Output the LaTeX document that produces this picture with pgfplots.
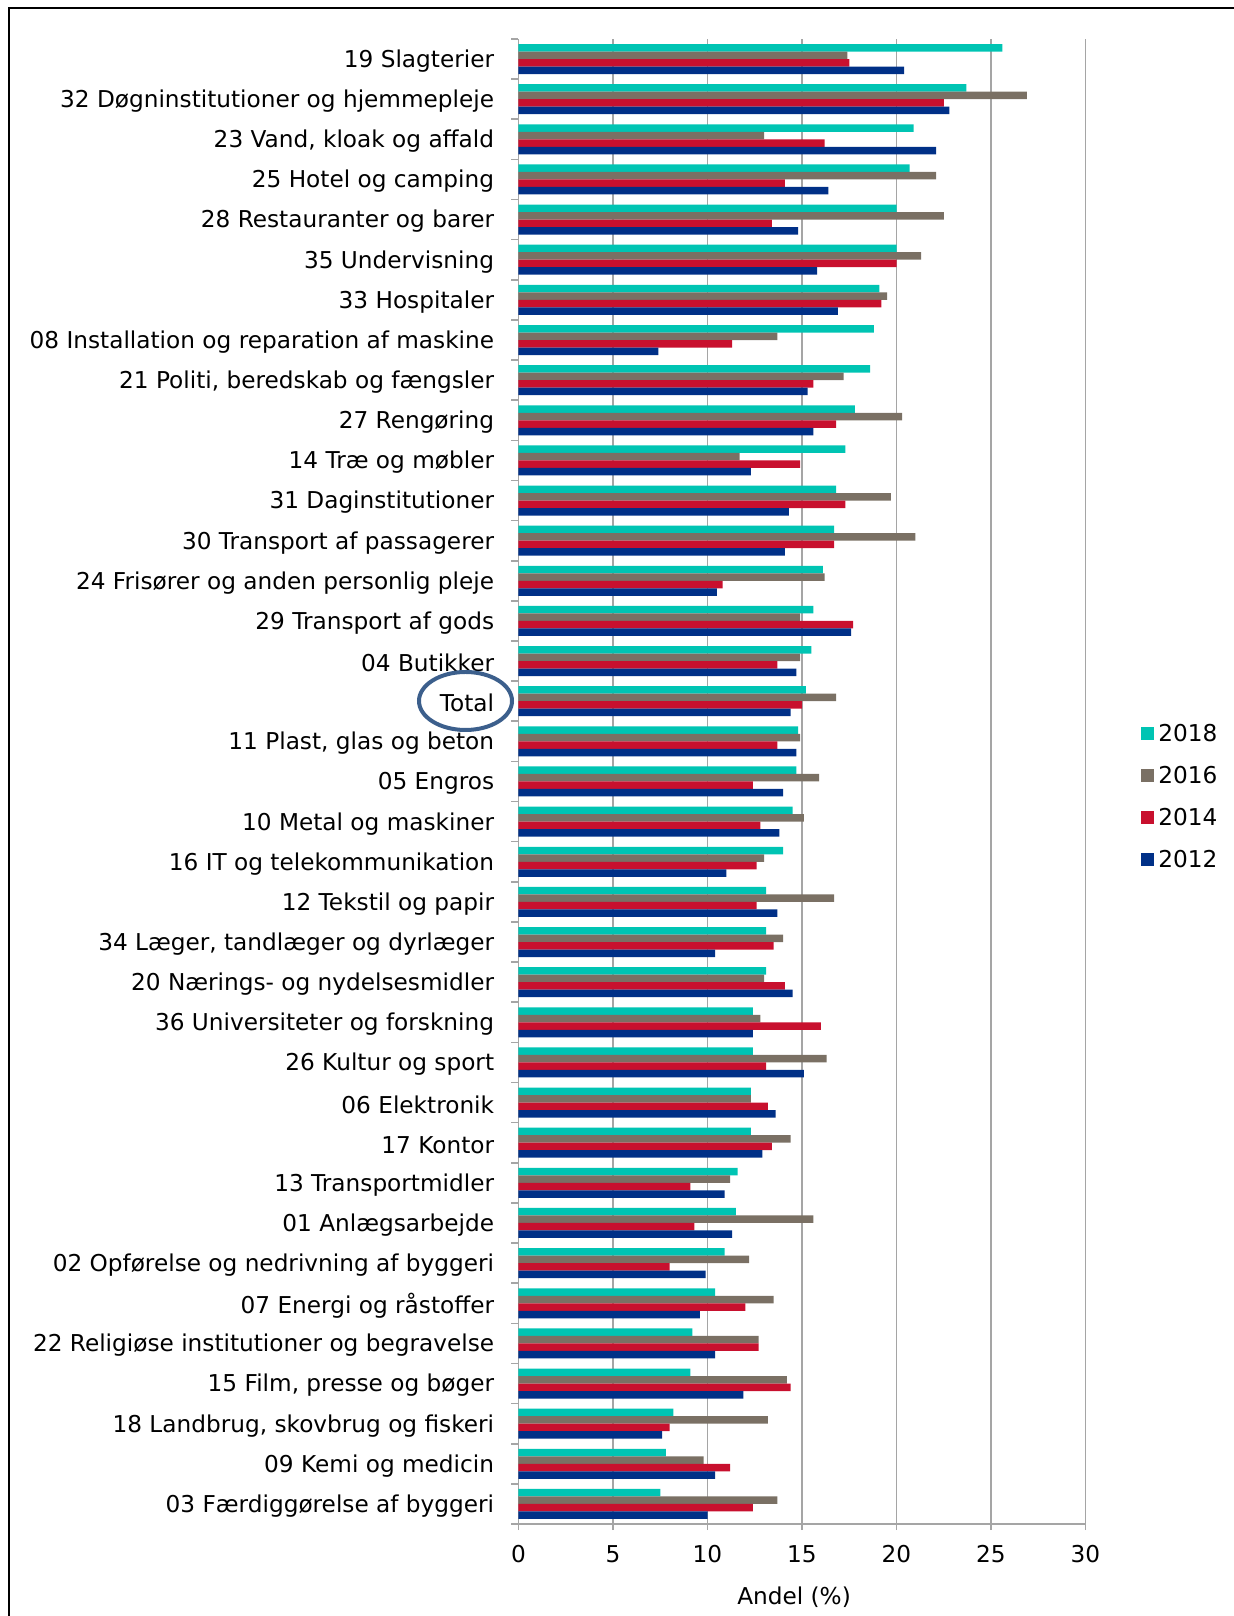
\documentclass[border=0pt]{standalone}
\usepackage{pgfplots}
\pgfplotsset{compat=1.18}
\usepackage{pgfplotstable}
\usepackage{fontspec}
\setmainfont{DejaVu Sans}
\definecolor{c18}{RGB}{0,196,179}
\definecolor{c16}{RGB}{122,112,100}
\definecolor{c14}{RGB}{200,16,46}
\definecolor{c12}{RGB}{0,48,135}
\definecolor{gridc}{RGB}{165,165,165}
\definecolor{circ}{RGB}{60,95,140}
\newcommand{\lf}{\fontsize{11.6}{13}\selectfont}
\pgfplotstableread{
y  a18  a16  a14  a12
36 25.6 17.4 17.5 20.4
35 23.7 26.9 22.5 22.8
34 20.9 13.0 16.2 22.1
33 20.7 22.1 14.1 16.4
32 20.0 22.5 13.4 14.8
31 20.0 21.3 20.0 15.8
30 19.1 19.5 19.2 16.9
29 18.8 13.7 11.3 7.4
28 18.6 17.2 15.6 15.3
27 17.8 20.3 16.8 15.6
26 17.3 11.7 14.9 12.3
25 16.8 19.7 17.3 14.3
24 16.7 21.0 16.7 14.1
23 16.1 16.2 10.8 10.5
22 15.6 14.9 17.7 17.6
21 15.5 14.9 13.7 14.7
20 15.2 16.8 15.0 14.4
19 14.8 14.9 13.7 14.7
18 14.7 15.9 12.4 14.0
17 14.5 15.1 12.8 13.8
16 14.0 13.0 12.6 11.0
15 13.1 16.7 12.6 13.7
14 13.1 14.0 13.5 10.4
13 13.1 13.0 14.1 14.5
12 12.4 12.8 16.0 12.4
11 12.4 16.3 13.1 15.1
10 12.3 12.3 13.2 13.6
9  12.3 14.4 13.4 12.9
8  11.6 11.2 9.1  10.9
7  11.5 15.6 9.3  11.3
6  10.9 12.2 8.0  9.9
5  10.4 13.5 12.0 9.6
4  9.2  12.7 12.7 10.4
3  9.1  14.2 14.4 11.9
2  8.2  13.2 8.0  7.6
1  7.8  9.8  11.2 10.4
0  7.5  13.7 12.4 10.0
}\data
\begin{document}
\begin{tikzpicture}[x=1pt,y=1pt]
\path[use as bounding box] (0,0) rectangle (617,808);
\draw[line width=1pt] (4.5,0) -- (4.5,804) -- (617,804);
\begin{axis}[
  at={(259.25pt,46pt)}, anchor=south west,
  scale only axis, width=283.5pt, height=742.5pt,
  xmin=0, xmax=30, ymin=-0.5, ymax=36.5,
  xbar, bar width=3.75pt,
  axis x line*=bottom, axis y line*=left,
  axis line style={-, gridc, line width=0.8pt},
  xmajorgrids, grid style={gridc, line width=0.8pt},
  xtick={0,5,...,30},
  ytick={0,...,36},
  minor ytick={-0.5,0.5,...,36.5},
  tick align=outside,
  major tick length=3pt, minor tick length=3.5pt,
  tick style={gridc, line width=0.8pt},
  every major y tick/.append style={draw=none},
  /pgf/number format/assume math mode=true,
  ticklabel style={font=\lf, text=black},
  xticklabel style={anchor=north, inner sep=0pt, yshift=-7.5pt},
  yticklabel style={anchor=east, inner sep=0pt, xshift=-9pt, yshift=-1pt},
  yticklabels={
    03 Færdiggørelse af byggeri,
    09 Kemi og medicin,
    {18 Landbrug, skovbrug og fiskeri},
    {15 Film, presse og bøger},
    22 Religiøse institutioner og begravelse,
    07 Energi og råstoffer,
    02 Opførelse og nedrivning af byggeri,
    01 Anlægsarbejde,
    13 Transportmidler,
    17 Kontor,
    06 Elektronik,
    26 Kultur og sport,
    36 Universiteter og forskning,
    20 Nærings- og nydelsesmidler,
    {34 Læger, tandlæger og dyrlæger},
    12 Tekstil og papir,
    16 IT og telekommunikation,
    10 Metal og maskiner,
    05 Engros,
    {11 Plast, glas og beton},
    Total,
    04 Butikker,
    29 Transport af gods,
    24 Frisører og anden personlig pleje,
    30 Transport af passagerer,
    31 Daginstitutioner,
    14 Træ og møbler,
    27 Rengøring,
    {21 Politi, beredskab og fængsler},
    08 Installation og reparation af maskine,
    33 Hospitaler,
    35 Undervisning,
    28 Restauranter og barer,
    25 Hotel og camping,
    {23 Vand, kloak og affald},
    32 Døgninstitutioner og hjemmepleje,
    19 Slagterier},
  xlabel={Andel (\%)},
  xlabel style={font=\lf, at={(axis description cs:0.486,0)}, anchor=center, yshift=-36.5pt},
  legend image code/.code={\fill[#1] (0pt,-3.25pt) rectangle (6.5pt,3.25pt);},
  legend style={at={(1.098,0.49)}, anchor=west, draw=none, fill=none,
    font=\lf, row sep=8.6pt, inner sep=0pt,
    nodes={inner sep=2pt, text height=8.4pt, text depth=0pt}},
  legend cell align=left,
]
\addplot[fill=c18, draw=none, bar shift=5.625pt] table[x=a18, y=y]{\data};
\addplot[fill=c16, draw=none, bar shift=1.875pt] table[x=a16, y=y]{\data};
\addplot[fill=c14, draw=none, bar shift=-1.875pt] table[x=a14, y=y]{\data};
\addplot[fill=c12, draw=none, bar shift=-5.625pt] table[x=a12, y=y]{\data};
\legend{2018,2016,2014,2012}
\end{axis}
\draw[circ, line width=2pt] (232.75,457.5) ellipse [x radius=23.25, y radius=14.5];
\end{tikzpicture}
\end{document}
